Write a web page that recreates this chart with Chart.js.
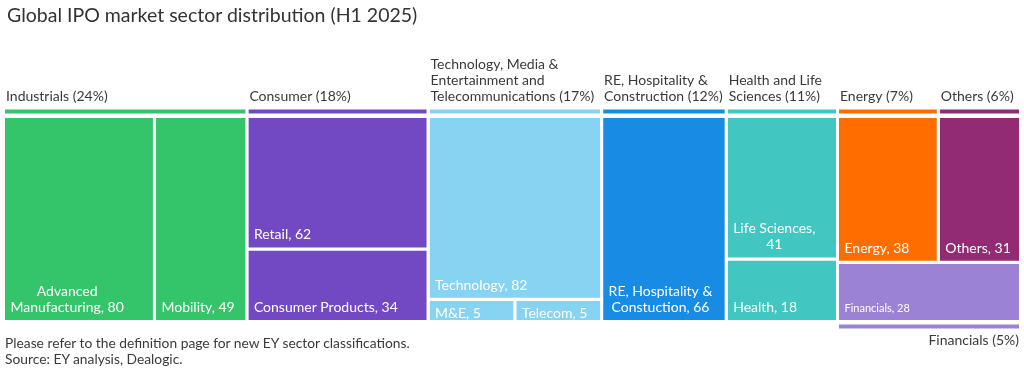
<!DOCTYPE html>
<html>
<head>
<meta charset="utf-8">
<script src="https://cdn.jsdelivr.net/npm/chart.js@4.4.1/dist/chart.umd.min.js"></script>
<style>
    html, body { margin: 0; padding: 0; background: #fff; }
    #wrap { position: relative; width: 1024px; height: 372px; font-family: Lato, sans-serif; color: #3a3a3a; }
    #title { position: absolute; left: 7px; top: 3px; font-size: 19.5px; line-height: 24px; color: #333; white-space: nowrap; }
    #notes { position: absolute; left: 5px; top: 335px; font-size: 13.8px; line-height: 16px; white-space: nowrap; }
    canvas { position: absolute; left: 0; top: 0; }
</style>
</head>
<body>
<div id="wrap">
    <canvas id="myChart" width="1024" height="372"></canvas>
    <div id="title">Global IPO market sector distribution (H1 2025)</div>
    <div id="notes">Please refer to the definition page for new EY sector classifications.<br>Source: EY analysis, Dealogic.</div>
</div>
<script>
// Sectores (nivel superior)
const sectorNames = ['Industrials', 'Consumer', 'Technology, Media &\nEntertainment and\nTelecommunications',
    'RE, Hospitality &\nConstruction', 'Health and Life\nSciences', 'Energy', 'Others', 'Financials'];
const sectorShares = [24, 18, 17, 12, 11, 7, 6, 5];
const sectorColors = ['#34c46a', '#7249c2', '#87d3f2', '#188ce5', '#42c6c1', '#ff6d00', '#922b73', '#9c82d4'];

// Subsectores: nombre, valor (numero de IPOs) y sector al que pertenecen
const subNames = ['Advanced\nManufacturing, {v}', 'Mobility, {v}', 'Retail, {v}', 'Consumer Products, {v}',
    'Technology, {v}', 'M&E, {v}', 'Telecom, {v}', 'RE, Hospitality &\nConstuction, {v}',
    'Life Sciences,\n{v}', 'Health, {v}', 'Energy, {v}', 'Others, {v}', 'Financials, {v}'];
const subValues = [80, 49, 62, 34, 82, 5, 5, 66, 41, 18, 38, 31, 28];
const subSector = [0, 0, 1, 1, 2, 2, 2, 3, 4, 4, 5, 6, 7];

// Estructura del treemap: 'r' = lado a lado, 'c' = apilado
const layoutTree = ['r',
    ['r', 0, 1],
    ['c', 2, 3],
    ['c', 4, ['r', 5, 6]],
    7,
    ['c', 8, 9],
    ['c', ['r', 10, 11], 12]
];

const smallLabels = [12];

// Zona del grafico (pixeles)
const CELL_TOP = 116.5, CELL_BOTTOM = 321.5, AREA_TOP = 100, AREA_BOTTOM = 336;
const H = CELL_BOTTOM - CELL_TOP;

function nodeValue(n) {
    if (!Array.isArray(n)) return subValues[n];
    return n.slice(1).reduce((s, c) => s + nodeValue(c), 0);
}

// Calcular rectangulos en unidades de datos (0..1)
const cells = [];
function place(n, x0, y0, x1, y1) {
    if (!Array.isArray(n)) {
        cells[n] = { x0, y0, x1, y1 };
        return;
    }
    const dir = n[0];
    const total = nodeValue(n);
    let pos = dir === 'r' ? x0 : y1;
    n.slice(1).forEach(k => {
        const f = nodeValue(k) / total;
        if (dir === 'r') {
            const w = (x1 - x0) * f;
            place(k, pos, y0, pos + w, y1);
            pos += w;
        } else {
            const h = (y1 - y0) * f;
            place(k, x0, pos - h, x1, pos);
            pos -= h;
        }
    });
}
place(layoutTree, 0, 0, 1, 1);

// Caja de cada sector
const sectorBoxes = sectorNames.map((s, si) => {
    const own = cells.filter((c, i) => subSector[i] === si);
    return {
        x0: Math.min(...own.map(c => c.x0)),
        x1: Math.max(...own.map(c => c.x1)),
        y0: Math.min(...own.map(c => c.y0)),
        y1: Math.max(...own.map(c => c.y1))
    };
});

// Barra de cabecera: arriba si el sector toca el borde superior, si no abajo
const headerBars = sectorBoxes.map(b => {
    if (b.y1 > 0.999) {
        return { x0: b.x0, x1: b.x1, y0: 1 + 1.5 / H, y1: 1 + 8.5 / H, above: true };
    }
    return { x0: b.x0, x1: b.x1, y0: b.y0 - 8.5 / H, y1: b.y0 - 1.5 / H, above: false };
});

function rectData(b) {
    return [
        { x: b.x0, y: b.y0 }, { x: b.x0, y: b.y1 }, { x: b.x1, y: b.y1 },
        { x: b.x1, y: b.y0 }, { x: b.x0, y: b.y0 }
    ];
}

function rectDataset(b, color) {
    return {
        data: rectData(b),
        showLine: true,
        fill: 'shape',
        backgroundColor: color,
        borderColor: '#ffffff',
        borderWidth: 3,
        borderJoinStyle: 'miter',
        pointRadius: 0,
        clip: false
    };
}

const datasets = [];
cells.forEach((c, i) => datasets.push(rectDataset(c, sectorColors[subSector[i]])));
headerBars.forEach((b, si) => datasets.push(rectDataset(b, sectorColors[si])));

// Etiquetas del treemap
const labelPlugin = {
    id: 'treemapLabels',
    afterDatasetsDraw(chart) {
        const { ctx, scales: { x, y } } = chart;
        ctx.save();
        ctx.textBaseline = 'alphabetic';

        // Subsectores
        subNames.forEach((name, i) => {
            const c = cells[i];
            const left = x.getPixelForValue(c.x0), right = x.getPixelForValue(c.x1);
            const top = y.getPixelForValue(c.y1), bottom = y.getPixelForValue(c.y0);
            const lines = name.replace('{v}', subValues[i]).split('\n');
            const size = smallLabels.includes(i) ? 11 : 14;
            ctx.font = size + 'px Lato';
            ctx.fillStyle = '#ffffff';
            ctx.textAlign = 'center';
            const blockW = Math.max(...lines.map(l => ctx.measureText(l).width));
            const cx = left + 7 + blockW / 2;
            let base = bottom - 9.5;
            if (bottom - top < 30) base = bottom - 4;
            ctx.save();
            ctx.beginPath();
            ctx.rect(left + 1.5, top + 1.5, right - left - 3, bottom - top - 3);
            ctx.clip();
            lines.forEach((l, k) => {
                ctx.fillText(l, cx, base - (lines.length - 1 - k) * 16.5);
            });
            ctx.restore();
        });

        // Sectores
        ctx.font = '14px Lato';
        ctx.fillStyle = '#3a3a3a';
        sectorNames.forEach((name, si) => {
            const b = headerBars[si];
            const lines = (name + ' (' + sectorShares[si] + '%)').split('\n');
            const left = x.getPixelForValue(b.x0), right = x.getPixelForValue(b.x1);
            if (b.above) {
                const barTop = y.getPixelForValue(b.y1);
                ctx.textAlign = 'left';
                lines.forEach((l, k) => {
                    ctx.fillText(l, left + 2.5, barTop - 7 - (lines.length - 1 - k) * 16);
                });
            } else {
                const barBottom = y.getPixelForValue(b.y0);
                ctx.textAlign = 'right';
                lines.forEach((l, k) => {
                    ctx.fillText(l, right - 1.5, barBottom + 15 + k * 16);
                });
            }
        });
        ctx.restore();
    }
};

const ctx = document.getElementById('myChart').getContext('2d');
const myChart = new Chart(ctx, {
    type: 'scatter',
    data: { datasets: datasets },
    options: {
        responsive: false,
        animation: false,
        layout: {
            padding: { left: 3.5, right: 3.5, top: AREA_TOP, bottom: 372 - AREA_BOTTOM }
        },
        scales: {
            x: { type: 'linear', min: 0, max: 1, display: false },
            y: {
                type: 'linear',
                min: -(AREA_BOTTOM - CELL_BOTTOM) / H,
                max: 1 + (CELL_TOP - AREA_TOP) / H,
                display: false
            }
        },
        plugins: {
            legend: { display: false },
            tooltip: { enabled: false }
        }
    },
    plugins: [labelPlugin]
});
</script>
</body>
</html>
